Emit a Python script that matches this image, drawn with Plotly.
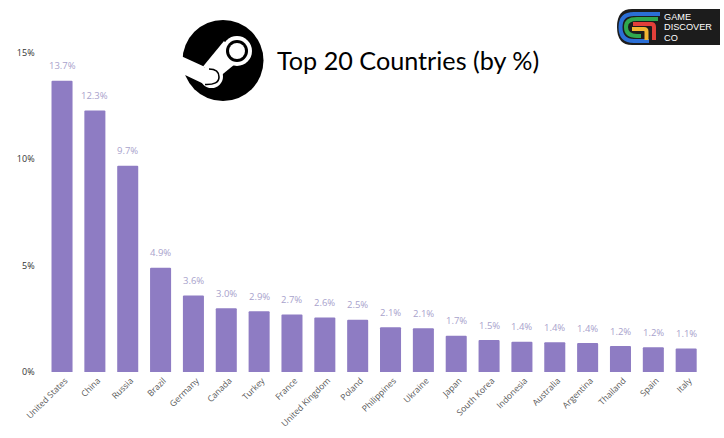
import plotly.graph_objects as go

countries = ["United States","China","Russia","Brazil","Germany","Canada","Turkey","France",
             "United Kingdom","Poland","Philippines","Ukraine","Japan","South Korea","Indonesia",
             "Australia","Argentina","Thailand","Spain","Italy"]
shares = [13.7,12.3,9.7,4.9,3.6,3.0,2.86,2.7,2.56,2.46,2.1,2.06,1.7,1.5,1.42,1.4,1.36,1.22,1.16,1.1]
y_ticks = [0,5,10,15]
y_tick_labels = ["0%","5%","10%","15%"]
title_text = "Top 20 Countries (by %)"
logo_lines = ["GAME","DISCOVER","CO"]

W, H = 724, 438
X0, X1 = 45.6, 702.6
Y15, Y0 = 53.0, 372.0

def px(x): return x / W
def py(y): return 1 - y / H

def circle(cx, cy, r, fill):
    return dict(type="circle", xref="paper", yref="paper", x0=px(cx-r), x1=px(cx+r),
                y0=py(cy+r), y1=py(cy-r), fillcolor=fill, line=dict(width=0), layer="above")

def path(points, fill=None, line=None, width=0, close=True):
    d = ""
    for p in points:
        if p[0] in ("M","L"):
            d += f"{p[0]}{px(p[1]):.5f},{py(p[2]):.5f} "
        else:
            d += f"Q{px(p[1]):.5f},{py(p[2]):.5f} {px(p[3]):.5f},{py(p[4]):.5f} "
    if close: d += "Z"
    s = dict(type="path", xref="paper", yref="paper", path=d, layer="above",
             line=dict(color=line or "rgba(0,0,0,0)", width=width))
    if fill: s["fillcolor"] = fill
    return s

shapes = []
shapes += [
    circle(223, 60.5, 40.5, "#000000"),
    path([("M",178,56),("L",181,56),("L",204,66.5),("L",204,84),("L",185,75),("L",178,72)], fill="#ffffff"),
    path([("M",224,41),("L",240,60),("L",218,78),("L",203,66.5)], fill="#ffffff"),
    circle(237, 51, 15, "#ffffff"),
    circle(237, 51, 11, "#000000"),
    circle(237, 51, 8, "#ffffff"),
    circle(211.5, 76.5, 11.5, "#ffffff"),
    path([("M",209,69),("Q",219,69,219,77),("Q",219,85,205,84.5)], line="#000000", width=1.6, close=False),
]
shapes.append(path([("M",632,9),("L",720,9),("L",720,45),("L",632,45),("Q",617,45,617,27),("Q",617,9,632,9)], fill="#1c1c1c"))
shapes += [
    path([("M",660,14),("L",634,14),("Q",620.5,14,620.5,27),("Q",620.5,41,634,41),("L",649,41)], line="#2b6fd6", width=4, close=False),
    path([("M",658,19),("L",637,19),("Q",626,19,626,27),("Q",626,36,637,36),("L",641,36)], line="#2fa84f", width=4, close=False),
    path([("M",633,24),("L",651,24),("Q",654,24,654,27),("L",654,40)], line="#e2403a", width=4, close=False),
    path([("M",632,29),("L",644,29),("Q",646.5,29,646.5,31.5),("L",646.5,40)], line="#f2b632", width=4, close=False),
]

annotations = [
    dict(text=title_text, xref="paper", yref="paper", x=px(274.5), y=py(60), xanchor="left", yanchor="middle",
         showarrow=False, font=dict(family="Lato", size=25.2, color="#000000")),
]
for line_text, ly in zip(logo_lines, [16.5, 27, 37.5]):
    annotations.append(dict(text=line_text, xref="paper", yref="paper", x=px(662), y=py(ly), xanchor="left",
                            yanchor="middle", showarrow=False,
                            font=dict(family="Liberation Sans", size=9.2, color="#ffffff")))
for c, v in zip(countries, shares):
    annotations.append(dict(text=f"{v:.1f}%", x=c, y=v, xref="x", yref="y", yshift=15, yanchor="middle",
                            xanchor="center", showarrow=False,
                            font=dict(family="Open Sans", size=9.5, color="#a8a2cc")))

fig = go.Figure(go.Bar(
    x=countries, y=shares, marker=dict(color="#8e7cc3", line=dict(width=0), cornerradius=1.5), width=0.64,
    hoverinfo="skip",
))
fig.update_layout(
    width=W, height=H, margin=dict(l=0, r=0, t=0, b=0), paper_bgcolor="#ffffff", plot_bgcolor="#ffffff",
    showlegend=False, shapes=shapes, annotations=annotations,
    xaxis=dict(domain=[px(X0), px(X1)], tickangle=-45, showgrid=False, showline=False, ticks="",
               tickfont=dict(family="Open Sans", size=8.6, color="#595959"), anchor="y", automargin=False,
               ticklabelshift=3, ticklabelstandoff=1),
    yaxis=dict(domain=[py(Y0), py(Y15)], range=[0, 15], tickvals=y_ticks, ticktext=y_tick_labels, showgrid=False,
               showline=False, zeroline=False, ticks="", tickfont=dict(family="Open Sans", size=9, color="#333333"),
               automargin=False, ticklabelstandoff=10),
)
fig.write_html("out.html", config=dict(displayModeBar=False), post_script="document.body.style.margin='0';")
